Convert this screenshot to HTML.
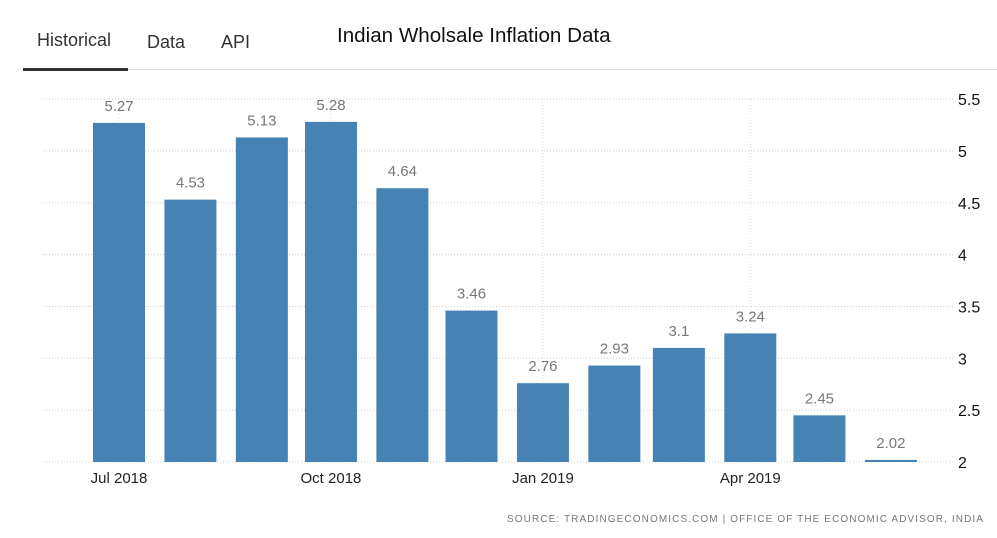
<!DOCTYPE html>
<html><head><meta charset="utf-8"><style>
body{margin:0;width:997px;height:538px;background:#fff;font-family:"Liberation Sans",sans-serif;overflow:hidden;position:relative}
.tab{position:absolute;top:30px;font-size:18px;color:#333}
</style></head><body>
<div class="tab" style="left:37px">Historical</div>
<div class="tab" style="left:147px;top:32px">Data</div>
<div class="tab" style="left:221px;top:32px">API</div>
<div style="position:absolute;left:23px;top:68px;width:105px;height:3px;background:#333"></div>
<div style="position:absolute;left:128px;top:69px;width:869px;height:1px;background:#ddd"></div>
<div style="position:absolute;left:337px;top:24px;font-size:20.6px;color:#111">Indian Wholsale Inflation Data</div>
<svg id="chart" width="997" height="538" style="position:absolute;left:0;top:0"></svg>
<div style="position:absolute;left:507px;top:514px;font-size:10px;letter-spacing:1.1px;color:#777">SOURCE: TRADINGECONOMICS.COM | OFFICE OF THE ECONOMIC ADVISOR, INDIA</div>
<script>
const dates=["2018-07-01","2018-08-01","2018-09-01","2018-10-01","2018-11-01","2018-12-01","2019-01-01","2019-02-01","2019-03-01","2019-04-01","2019-05-01","2019-06-01"];
const values=[5.27,4.53,5.13,5.28,4.64,3.46,2.76,2.93,3.1,3.24,2.45,2.02];
const labels=["5.27","4.53","5.13","5.28","4.64","3.46","2.76","2.93","3.1","3.24","2.45","2.02"];
const yTicks=[2,2.5,3,3.5,4,4.5,5,5.5];
const yTickLabels=["2","2.5","3","3.5","4","4.5","5","5.5"];
const xTickDates=["2018-07-01","2018-10-01","2019-01-01","2019-04-01"];
const xTickLabels=["Jul 2018","Oct 2018","Jan 2019","Apr 2019"];
const svg=document.getElementById('chart');const NS="http://www.w3.org/2000/svg";
const t0=Date.parse("2018-07-01");
function x(d){return 119+(Date.parse(d)-t0)/86400000*2.304;}
function y(v){return 462-(v-2)*103.7;}
function mk(tag,a){const e=document.createElementNS(NS,tag);for(const k in a)e.setAttribute(k,a[k]);svg.appendChild(e);return e;}
yTicks.forEach((v,i)=>{
 const g=mk('line',{x1:43,x2:955,y1:y(v),y2:y(v),stroke:'#ccc','stroke-dasharray':'1,2'});
 
 
 const t=mk('text',{x:958,y:y(v)+6,'font-size':16,fill:'#111'});t.textContent=yTickLabels[i];
 
 
});
xTickDates.forEach((d,i)=>{
 const g=mk('line',{x1:x(d),x2:x(d),y1:y(5.5),y2:462,stroke:'#ddd','stroke-dasharray':'1,2'});
 
 
 const t=mk('text',{x:x(d),y:483,'font-size':15,fill:'#222','text-anchor':'middle'});t.textContent=xTickLabels[i];
 
 
});
values.forEach((v,i)=>{
 const cx=x(dates[i]);
 const r=mk('rect',{x:cx-26,y:y(v),width:52,height:Math.max(462-y(v),2),fill:'#4682b4'});
 
 
 const t=mk('text',{x:cx,y:y(v)-12,'font-size':15,fill:'#777','text-anchor':'middle'});t.textContent=labels[i];
 
 
});
</script>
</body></html>
